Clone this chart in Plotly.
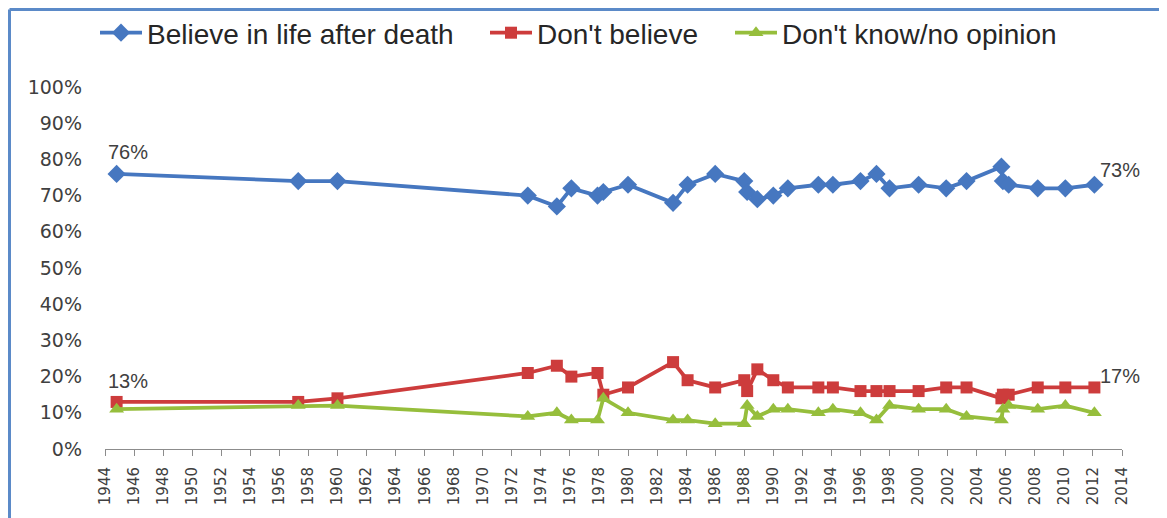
import plotly.graph_objects as go

# Survey dates (decimal years) and percentages
years = [1944.8, 1957.3, 1960.0, 1973.1, 1975.1, 1976.1, 1977.9, 1978.3, 1980.0, 1983.1,
         1984.1, 1986.0, 1988.0, 1988.2, 1988.9, 1990.0, 1991.0, 1993.1, 1994.1, 1996.0,
         1997.1, 1998.0, 2000.0, 2001.9, 2003.3, 2005.7, 2005.8, 2006.2, 2008.2, 2010.1,
         2012.1]
believe = [76, 74, 74, 70, 67, 72, 70, 71, 73, 68,
           73, 76, 74, 71, 69, 70, 72, 73, 73, 74,
           76, 72, 73, 72, 74, 78, 74, 73, 72, 72,
           73]
dont_believe = [13, 13, 14, 21, 23, 20, 21, 15, 17, 24,
                19, 17, 19, 16, 22, 19, 17, 17, 17, 16,
                16, 16, 16, 17, 17, 14, 15, 15, 17, 17,
                17]
dont_know = [11, 12, 12, 9, 10, 8, 8, 14, 10, 8,
             8, 7, 7, 12, 9, 11, 11, 10, 11, 10,
             8, 12, 11, 11, 9, 8, 11, 12, 11, 12,
             10]

series_names = ["Believe in life after death", "Don't believe", "Don't know/no opinion"]
y_ticks = [0, 10, 20, 30, 40, 50, 60, 70, 80, 90, 100]
x_ticks = list(range(1944, 2015, 2))

BLUE = "#4677C0"
RED = "#CD3C3C"
GREEN = "#96BE3C"

fig = go.Figure()
fig.add_trace(go.Scatter(x=years, y=believe, name=series_names[0], mode="lines+markers",
                         line=dict(color=BLUE, width=3.8), legend="legend",
                         marker=dict(symbol="diamond", size=14, color=BLUE)))
fig.add_trace(go.Scatter(x=years, y=dont_believe, name=series_names[1], mode="lines+markers",
                         line=dict(color=RED, width=3.8), legend="legend2",
                         marker=dict(symbol="square", size=12, color=RED)))
fig.add_trace(go.Scatter(x=years, y=dont_know, name=series_names[2], mode="lines+markers",
                         line=dict(color=GREEN, width=3.8), legend="legend3",
                         marker=dict(symbol="triangle-up", size=13, color=GREEN)))

lab_font = dict(family="Liberation Sans, Arial, sans-serif", size=20, color="#404040")
annotations = [
    dict(x=years[0], y=believe[0], text=f"{believe[0]}%", xanchor="left", yanchor="bottom",
         xshift=-11, yshift=9, showarrow=False, font=lab_font),
    dict(x=years[0], y=dont_believe[0], text=f"{dont_believe[0]}%", xanchor="left", yanchor="bottom",
         xshift=-11, yshift=8, showarrow=False, font=lab_font),
    dict(x=years[-1], y=believe[-1], text=f"{believe[-1]}%", xanchor="left", yanchor="bottom",
         xshift=4, yshift=2, showarrow=False, font=lab_font),
    dict(x=years[-1], y=dont_believe[-1], text=f"{dont_believe[-1]}%", xanchor="left", yanchor="bottom",
         xshift=4, yshift=-2, showarrow=False, font=lab_font),
]

# figure is placed 8px in from the page corner (body margin), so work in figure pixels
W, H = 1159, 510
L, R, T, B = 97, 1114, 79, 441
def px(xp):
    return (xp - L) / (R - L)
def py(yp):
    return (B - yp) / (B - T)

shapes = [
    dict(type="line", xref="paper", yref="paper", x0=px(1.5), x1=px(W + 5), y0=py(1.5), y1=py(1.5),
         line=dict(color="#5B8AC8", width=3)),
    dict(type="line", xref="paper", yref="paper", x0=px(1.5), x1=px(1.5), y0=py(1.5), y1=py(H + 5),
         line=dict(color="#5B8AC8", width=3)),
]

leg_font = dict(family="Liberation Sans, Arial, sans-serif", size=28, color="#262626")
def leg(xpix):
    return dict(orientation="h", x=px(xpix - 13), xanchor="left", y=py(25), yanchor="middle",
                font=leg_font, itemwidth=42, bgcolor="rgba(0,0,0,0)", borderwidth=0)

fig.update_layout(
    width=W, height=H,
    margin=dict(l=L, r=W - R, t=T, b=H - B, autoexpand=False),
    plot_bgcolor="white", paper_bgcolor="white",
    showlegend=True,
    legend=leg(100),
    legend2=leg(490),
    legend3=leg(735),
    annotations=annotations,
    shapes=shapes,
    xaxis=dict(range=[1944, 2014], tickmode="array", tickvals=x_ticks,
               ticktext=[str(t) for t in x_ticks], tickangle=-90, automargin=False,
               showgrid=False, zeroline=False, showline=True, linecolor="#8C8C8C", linewidth=1,
               ticks="outside", ticklen=6, tickcolor="#8C8C8C", ticklabelstandoff=5,
               tickfont=dict(family="DejaVu Sans, sans-serif", size=15, color="#404040")),
    yaxis=dict(range=[0, 100], tickmode="array", tickvals=y_ticks, automargin=False,
               ticktext=[f"{t}%" for t in y_ticks], ticklabelstandoff=22,
               showgrid=False, zeroline=False, showline=False, ticks="",
               tickfont=dict(family="DejaVu Sans, sans-serif", size=19, color="#404040")),
)

fig.write_html("out.html")
